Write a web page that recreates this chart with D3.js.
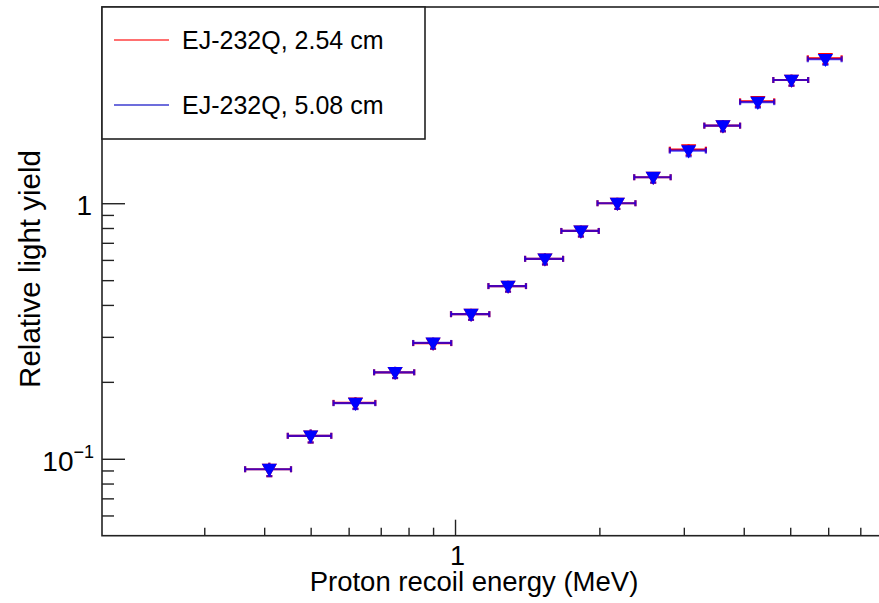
<!DOCTYPE html>
<html>
<head>
<meta charset="utf-8">
<script src="https://cdn.jsdelivr.net/npm/d3@7"></script>
<style>
  body { margin: 0; background: #fff; }
  text { font-family: "Liberation Sans", Arial, Helvetica, sans-serif; }
</style>
</head>
<body>
<div id="chart"></div>
<script>
// proton recoil energy (MeV) and half width of each bin
var energy    = [0.41, 0.50, 0.62, 0.75, 0.90, 1.08, 1.29, 1.54, 1.83, 2.18, 2.59, 3.07, 3.62, 4.28, 5.03, 5.92];
var energyErr = [0.045, 0.052, 0.062, 0.072, 0.082, 0.099, 0.116, 0.14, 0.164, 0.198, 0.226, 0.265, 0.31, 0.35, 0.42, 0.48];

// relative light yield, EJ-232Q 2.54 cm (red) and 5.08 cm (blue)
var yield254 = [0.091, 0.123, 0.1655, 0.218, 0.2835, 0.368, 0.474, 0.606, 0.779, 1.00, 1.264, 1.62, 2.012, 2.505, 3.035, 3.69];
var yield508 = [0.091, 0.123, 0.165, 0.218, 0.284, 0.368, 0.474, 0.606, 0.779, 1.00, 1.264, 1.606, 2.012, 2.486, 3.035, 3.659];
var yieldErr254 = [0.0055, 0.0072, 0.0085, 0.011, 0.014, 0.018, 0.023, 0.03, 0.038, 0.05, 0.06, 0.08, 0.1, 0.12, 0.15, 0.18];
var yieldErr508 = [0.0055, 0.0072, 0.0085, 0.011, 0.014, 0.018, 0.023, 0.03, 0.038, 0.05, 0.06, 0.08, 0.1, 0.12, 0.15, 0.18];

var seriesNames = ["EJ-232Q, 2.54 cm", "EJ-232Q, 5.08 cm"];

// axis ticks
var xMajorTicks = [1];
var xMinorTicks = [0.3, 0.4, 0.5, 0.6, 0.7, 0.8, 0.9, 2, 3, 4, 5, 6, 7, 8];
var yMajorTicks = [0.1, 1];
var yMinorTicks = [0.06, 0.07, 0.08, 0.09, 0.2, 0.3, 0.4, 0.5, 0.6, 0.7, 0.8, 0.9, 2, 3, 4, 5];

var W = 879, H = 603;
var pLeft = 102, pTop = 7, pRight = 900, pBottom = 535.7;

var svg = d3.select("#chart").append("svg")
    .attr("width", W)
    .attr("height", H);

var x = d3.scaleLog().domain([0.1836, 8.47]).range([pLeft, pRight]);
var y = d3.scaleLog().domain([0.05, 5.86]).range([pBottom, pTop]);

// frame
svg.append("rect")
    .attr("x", pLeft).attr("y", pTop)
    .attr("width", pRight - pLeft).attr("height", pBottom - pTop)
    .attr("fill", "none")
    .attr("stroke", "#222")
    .attr("stroke-width", 1.6);

// x axis, ticks pointing inward
var gx = svg.append("g").attr("transform", "translate(0," + pBottom + ")");
gx.append("g").call(d3.axisBottom(x).tickValues(xMinorTicks).tickSizeInner(-8).tickSizeOuter(0).tickFormat(""));
gx.append("g").call(d3.axisBottom(x).tickValues(xMajorTicks).tickSizeInner(-16).tickSizeOuter(0).tickPadding(10)
    .tickFormat(function (d) { return "1"; }));
gx.selectAll(".domain").remove();
gx.selectAll("line").attr("stroke", "#222").attr("stroke-width", 1.4);
gx.selectAll("text").attr("font-size", "27px").attr("fill", "#000").attr("font-family", null).attr("dx", 2);

// y axis
var gy = svg.append("g").attr("transform", "translate(" + pLeft + ",0)");
gy.append("g").call(d3.axisLeft(y).tickValues(yMinorTicks).tickSizeInner(-12).tickSizeOuter(0).tickFormat(""));
gy.append("g").call(d3.axisLeft(y).tickValues(yMajorTicks).tickSizeInner(-23).tickSizeOuter(0).tickFormat(""));
gy.selectAll(".domain").remove();
gy.selectAll("line").attr("stroke", "#222").attr("stroke-width", 1.4);

// y labels: 1 and 10^-1
yMajorTicks.forEach(function (v) {
  var t = svg.append("text")
      .attr("x", 92)
      .attr("y", y(v) + 12)
      .attr("text-anchor", "end")
      .attr("font-size", "28px")
      .attr("fill", "#000");
  if (v === 1) {
    t.text("1");
  } else {
    t.attr("x", 94);
    t.append("tspan").text("10");
    t.append("tspan").attr("font-size", "18px").attr("dy", -13).text("\u22121");
  }
});

// error bars and markers
var colors = ["#ff0000", "#0000ff"];
var series = [
  { name: seriesNames[0], values: yield254, errs: yieldErr254, color: colors[0], opacity: 1 },
  { name: seriesNames[1], values: yield508, errs: yieldErr508, color: colors[1], opacity: 0.7 }
];

var cap = 3;
series.forEach(function (s) {
  var pts = energy.map(function (e, i) {
    return { e: e, de: energyErr[i], v: s.values[i], dv: s.errs[i] };
  });
  var g = svg.append("g")
      .attr("stroke", s.color)
      .attr("stroke-width", 2.2)
      .attr("stroke-opacity", s.opacity);
  var eb = g.selectAll("g.eb").data(pts).enter().append("g").attr("class", "eb");
  eb.append("line")
      .attr("x1", function (d) { return x(d.e - d.de); })
      .attr("x2", function (d) { return x(d.e + d.de); })
      .attr("y1", function (d) { return y(d.v); })
      .attr("y2", function (d) { return y(d.v); });
  eb.append("line")
      .attr("x1", function (d) { return x(d.e - d.de); })
      .attr("x2", function (d) { return x(d.e - d.de); })
      .attr("y1", function (d) { return y(d.v) - cap; })
      .attr("y2", function (d) { return y(d.v) + cap; });
  eb.append("line")
      .attr("x1", function (d) { return x(d.e + d.de); })
      .attr("x2", function (d) { return x(d.e + d.de); })
      .attr("y1", function (d) { return y(d.v) - cap; })
      .attr("y2", function (d) { return y(d.v) + cap; });
  eb.append("line")
      .attr("x1", function (d) { return x(d.e); })
      .attr("x2", function (d) { return x(d.e); })
      .attr("y1", function (d) { return y(d.v - d.dv); })
      .attr("y2", function (d) { return y(d.v + d.dv); });
  eb.append("line")
      .attr("x1", function (d) { return x(d.e) - cap; })
      .attr("x2", function (d) { return x(d.e) + cap; })
      .attr("y1", function (d) { return y(d.v - d.dv); })
      .attr("y2", function (d) { return y(d.v - d.dv); });

  svg.append("g").selectAll("path").data(pts).enter().append("path")
      .attr("d", d3.symbol().type(d3.symbolTriangle).size(100))
      .attr("transform", function (d) { return "translate(" + x(d.e) + "," + (y(d.v) - 1) + ") rotate(180)"; })
      .attr("fill", s.color);
});

// legend
var lg = svg.append("g");
lg.append("rect")
    .attr("x", pLeft).attr("y", pTop)
    .attr("width", 323).attr("height", 132)
    .attr("fill", "#fff")
    .attr("stroke", "#222")
    .attr("stroke-width", 1.6);
var legendColors = ["#ff4040", "#3c3cd0"];
seriesNames.forEach(function (name, i) {
  var ly = 40 + i * 65;
  lg.append("line")
      .attr("x1", 114).attr("x2", 169)
      .attr("y1", ly).attr("y2", ly)
      .attr("stroke", legendColors[i])
      .attr("stroke-width", 1.5);
  lg.append("text")
      .attr("x", 182).attr("y", ly + 9)
      .attr("font-size", "25px")
      .attr("fill", "#000")
      .text(name);
});

// axis titles
svg.append("text")
    .attr("x", 474).attr("y", 591)
    .attr("text-anchor", "middle")
    .attr("font-size", "27.5px")
    .attr("fill", "#000")
    .text("Proton recoil energy (MeV)");

svg.append("text")
    .attr("transform", "translate(40,269) rotate(-90)")
    .attr("text-anchor", "middle")
    .attr("font-size", "29.5px")
    .attr("fill", "#000")
    .text("Relative light yield");
</script>
</body>
</html>
